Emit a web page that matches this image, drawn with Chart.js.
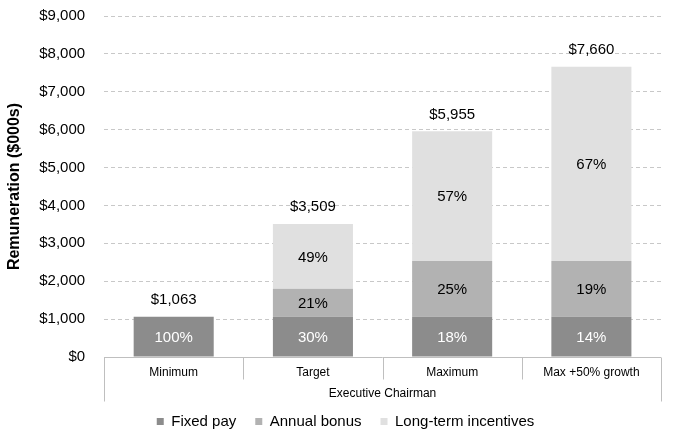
<!DOCTYPE html>
<html>
<head>
<meta charset="utf-8">
<script src="https://cdn.jsdelivr.net/npm/chart.js@4.4.0/dist/chart.umd.min.js"></script>
<style>
  body { margin: 0; background: #fff; }
  #wrap { width: 678px; height: 442px; }
</style>
</head>
<body>
<div id="wrap"><canvas id="myChart" width="678" height="442"></canvas></div>
<script>
// Pay scenarios for the Executive Chairman ($000s)
const scenarios = ['Minimum', 'Target', 'Maximum', 'Max +50% growth'];
const fixedPay = [1063, 1063, 1063, 1063];
const annualBonus = [0, 737, 1474, 1474];
const longTermIncentives = [0, 1709, 3418, 5123];
const totals = [1063, 3509, 5955, 7660];
const fixedPct = ['100%', '30%', '18%', '14%'];
const bonusPct = ['', '21%', '25%', '19%'];
const ltiPct = ['', '49%', '57%', '67%'];
const groupLabel = 'Executive Chairman';

const FONT = "'Liberation Sans', Arial, sans-serif";
const LINE = '#bfbfbf';

function fmtMoney(v) {
    return '$' + Number(v).toLocaleString('en-US');
}

// % labels inside each segment, total above each bar
const barLabels = {
    id: 'barLabels',
    afterDatasetsDraw(chart) {
        const ctx = chart.ctx;
        const pctSets = [fixedPct, bonusPct, ltiPct];
        ctx.save();
        ctx.font = '15px ' + FONT;
        ctx.textAlign = 'center';
        ctx.textBaseline = 'middle';
        chart.data.datasets.forEach((ds, di) => {
            const meta = chart.getDatasetMeta(di);
            meta.data.forEach((bar, i) => {
                const txt = pctSets[di][i];
                if (!txt) return;
                ctx.fillStyle = di === 0 ? '#ffffff' : '#000000';
                ctx.fillText(txt, bar.x, (bar.y + bar.base) / 2 + 1);
            });
        });
        const first = chart.getDatasetMeta(0);
        ctx.fillStyle = '#000';
        totals.forEach((t, i) => {
            const y = chart.scales.y.getPixelForValue(t);
            ctx.fillText(fmtMoney(t), first.data[i].x, y - 17);
        });
        ctx.restore();
    }
};

// category separators below the axis, outer edges reach past the group label
const groupBox = {
    id: 'groupBox',
    afterLayout(chart) {
        // legend sits a little right of centre in the original
        chart.legend.left += 27;
    },
    afterDraw(chart) {
        const ctx = chart.ctx;
        const x = chart.scales.x;
        const y0 = Math.round(chart.scales.y.getPixelForValue(0)) + 0.5;
        const n = scenarios.length;
        const step = (x.right - x.left) / n;
        ctx.save();
        ctx.strokeStyle = LINE;
        ctx.lineWidth = 1;
        ctx.beginPath();
        ctx.moveTo(x.left, y0);
        ctx.lineTo(x.right, y0);
        for (let i = 0; i <= n; i++) {
            const px = Math.round(x.left + step * i) + 0.5;
            const len = (i === 0 || i === n) ? 44 : 22;
            ctx.moveTo(px, y0);
            ctx.lineTo(px, y0 + len);
        }
        ctx.stroke();
        ctx.restore();
    }
};

const ctx = document.getElementById('myChart').getContext('2d');
new Chart(ctx, {
    type: 'bar',
    data: {
        labels: scenarios,
        datasets: [
            { label: 'Fixed pay', data: fixedPay, backgroundColor: '#8c8c8c' },
            { label: 'Annual bonus', data: annualBonus, backgroundColor: '#b2b2b2' },
            { label: 'Long-term incentives', data: longTermIncentives, backgroundColor: '#e0e0e0' }
        ]
    },
    options: {
        responsive: false,
        animation: false,
        layout: { padding: { top: 16, right: 17, left: 3, bottom: 3 } },
        datasets: {
            bar: { categoryPercentage: 1, barPercentage: 0.575, borderWidth: 0 }
        },
        scales: {
            x: {
                stacked: true,
                grid: { display: false, drawTicks: false },
                border: { display: false },
                ticks: {
                    color: '#000',
                    font: { family: FONT, size: 12 },
                    padding: 8
                },
                title: {
                    display: true,
                    text: groupLabel,
                    color: '#000',
                    font: { family: FONT, size: 12 },
                    padding: { top: 0, bottom: -6 }
                },
                afterFit(scale) {
                    scale.height = 38;
                }
            },
            y: {
                stacked: true,
                min: 0,
                max: 9000,
                ticks: {
                    stepSize: 1000,
                    color: '#000',
                    font: { family: FONT, size: 15 },
                    padding: 0,
                    callback: v => fmtMoney(v)
                },
                grid: {
                    color: '#c8c8c8',
                    drawTicks: true,
                    tickLength: 19,
                    tickColor: 'rgba(0,0,0,0)'
                },
                border: { display: false, dash: [4, 3] },
                title: {
                    display: true,
                    text: 'Remuneration ($000s)',
                    color: '#000',
                    font: { family: FONT, size: 16, weight: 'bold' },
                    padding: { top: 2, bottom: 15 }
                }
            }
        },
        plugins: {
            legend: {
                position: 'bottom',
                labels: {
                    color: '#000',
                    font: { family: FONT, size: 15 },
                    boxWidth: 7,
                    boxHeight: 7,
                    padding: 19
                }
            },
            tooltip: { enabled: false }
        }
    },
    plugins: [barLabels, groupBox]
});
</script>
</body>
</html>
